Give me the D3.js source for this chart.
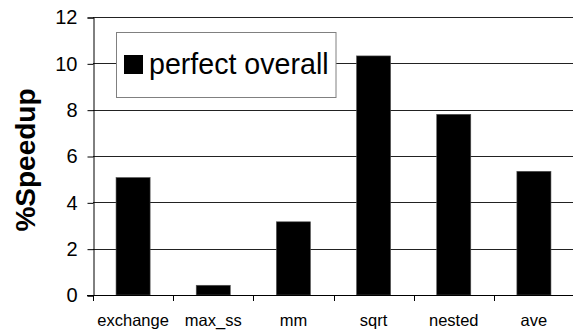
<!DOCTYPE html>
<html>
<head>
<meta charset="utf-8">
<script src="https://cdn.jsdelivr.net/npm/d3@7"></script>
<style>
  body { margin: 0; background: #fff; }
  text { font-family: "Liberation Sans", Arial, sans-serif; }
</style>
</head>
<body>
<div id="content"></div>
<script>
// chart data
const categories = ["exchange", "max_ss", "mm", "sqrt", "nested", "ave"];
const speedup = [5.07, 0.42, 3.16, 10.32, 7.8, 5.34];
const yTicks = [0, 2, 4, 6, 8, 10, 12];
const seriesName = "perfect overall";

const width = 573, height = 333;
const plotLeft = 93, plotRight = 574, plotTop = 17, plotBottom = 295;

const svg = d3.select("#content")
    .append("svg")
    .attr("width", width)
    .attr("height", height);

const xScale = d3.scaleBand()
    .domain(categories)
    .range([plotLeft, plotRight])
    .paddingInner(0.575)
    .paddingOuter(0.2875);

const yScale = d3.scaleLinear()
    .domain([0, 12])
    .range([plotBottom, plotTop]);

// gridlines
svg.append("g")
    .selectAll("line")
    .data(yTicks.filter(d => d > 0))
    .enter()
    .append("line")
    .attr("x1", plotLeft)
    .attr("x2", plotRight)
    .attr("y1", d => Math.round(yScale(d)) + 0.5)
    .attr("y2", d => Math.round(yScale(d)) + 0.5)
    .attr("stroke", "#222")
    .attr("stroke-width", 1);

// y axis
const yAxis = d3.axisLeft(yScale)
    .tickValues(yTicks)
    .tickSize(6)
    .tickPadding(10);

const yG = svg.append("g")
    .attr("transform", "translate(" + (plotLeft + 0.5) + ",0.5)")
    .call(yAxis);
yG.select(".domain").attr("stroke", "#000");
yG.selectAll(".tick line").attr("stroke", "#000");
yG.selectAll(".tick text")
    .attr("font-size", 20)
    .attr("font-family", "Liberation Sans, Arial, sans-serif")
    .attr("fill", "#000");

// legend box
const legend = svg.append("g");
legend.append("rect")
    .attr("x", 116.5)
    .attr("y", 32.5)
    .attr("width", 219.5)
    .attr("height", 65)
    .attr("fill", "#fff")
    .attr("stroke", "#808080")
    .attr("stroke-width", 1);
legend.append("rect")
    .attr("x", 124)
    .attr("y", 55)
    .attr("width", 19)
    .attr("height", 19)
    .attr("fill", "#000");
legend.append("text")
    .attr("x", 149)
    .attr("y", 74)
    .attr("font-size", 28.6)
    .attr("fill", "#000")
    .text(seriesName);

// bars
svg.selectAll(".bar")
    .data(speedup)
    .enter()
    .append("rect")
    .attr("class", "bar")
    .attr("x", (d, i) => xScale(categories[i]))
    .attr("y", d => yScale(d))
    .attr("width", xScale.bandwidth())
    .attr("height", d => yScale(0) - yScale(d))
    .attr("fill", "#000")
    .attr("stroke", "#555")
    .attr("stroke-width", 0.6);

// x axis
const step = xScale.step();
const xG = svg.append("g");
xG.append("line")
    .attr("x1", plotLeft - 6)
    .attr("x2", plotRight)
    .attr("y1", plotBottom + 0.5)
    .attr("y2", plotBottom + 0.5)
    .attr("stroke", "#000");
xG.selectAll(".xtick")
    .data(d3.range(categories.length + 1))
    .enter()
    .append("line")
    .attr("class", "xtick")
    .attr("x1", i => Math.round(plotLeft + i * step) + 0.5)
    .attr("x2", i => Math.round(plotLeft + i * step) + 0.5)
    .attr("y1", plotBottom)
    .attr("y2", plotBottom + 6)
    .attr("stroke", "#000");
xG.selectAll(".xlabel")
    .data(categories)
    .enter()
    .append("text")
    .attr("class", "xlabel")
    .attr("x", d => xScale(d) + xScale.bandwidth() / 2)
    .attr("y", 326)
    .attr("text-anchor", "middle")
    .attr("font-size", 16.5)
    .attr("fill", "#000")
    .text(d => d);

// y axis title
svg.append("text")
    .attr("transform", "translate(35,160) rotate(-90)")
    .attr("text-anchor", "middle")
    .attr("font-size", 28)
    .attr("font-weight", "bold")
    .attr("fill", "#000")
    .text("%Speedup");
</script>
</body>
</html>
